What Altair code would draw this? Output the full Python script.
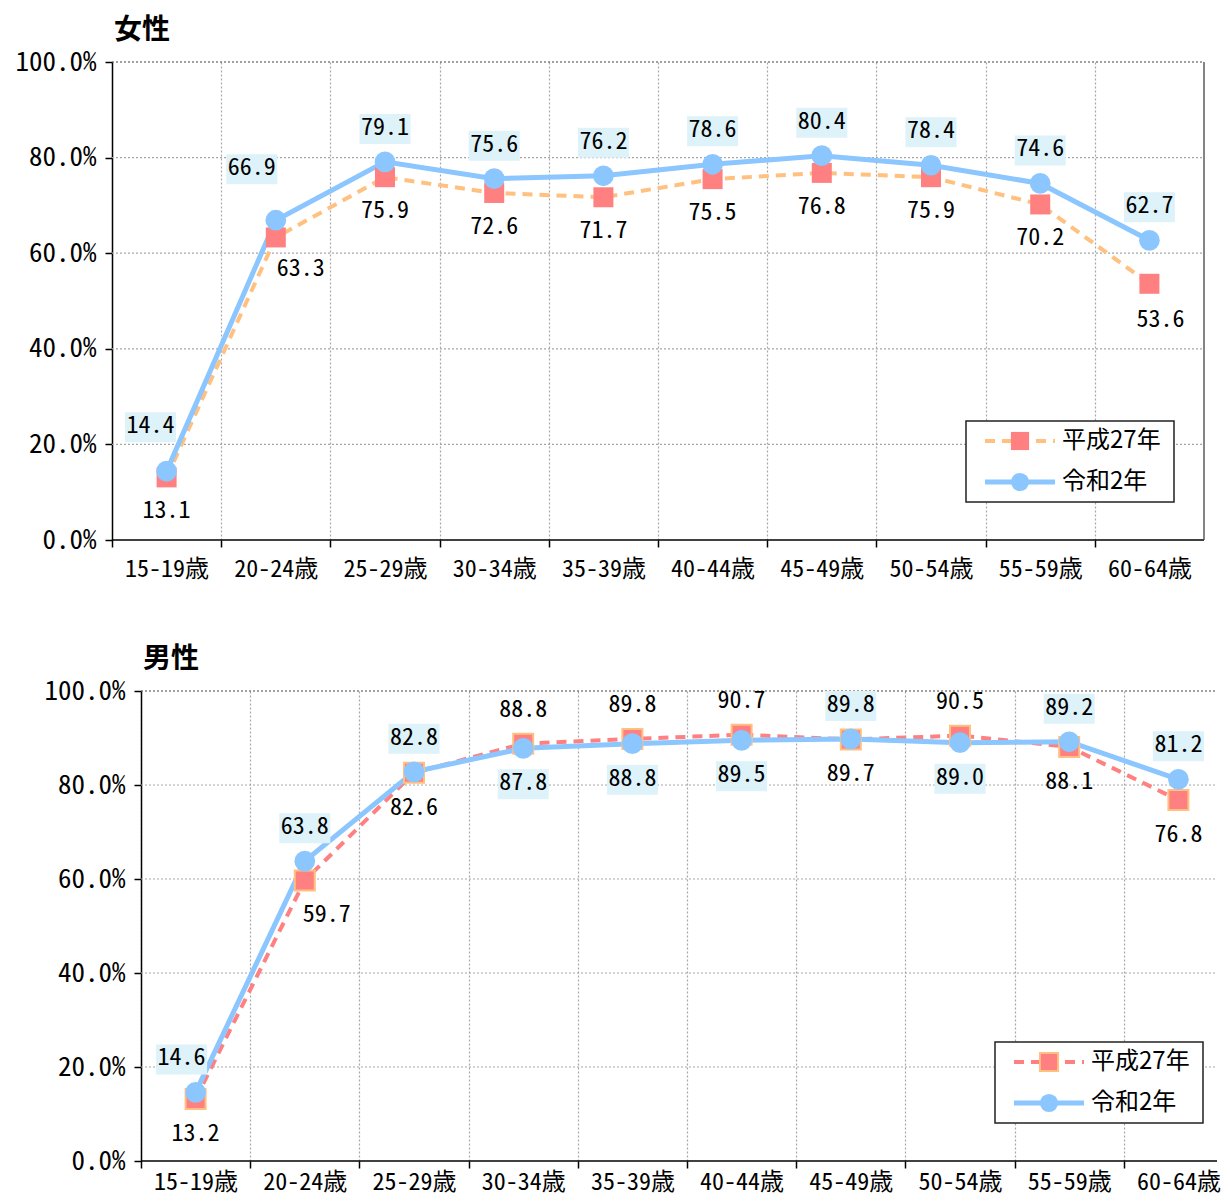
import altair as alt
import pandas as pd

# ---------------- data ----------------
ages = ["15-19歳", "20-24歳", "25-29歳", "30-34歳", "35-39歳",
        "40-44歳", "45-49歳", "50-54歳", "55-59歳", "60-64歳"]
series = ["平成27年", "令和2年"]

women_h27 = [13.1, 63.3, 75.9, 72.6, 71.7, 75.5, 76.8, 75.9, 70.2, 53.6]
women_r2 = [14.4, 66.9, 79.1, 75.6, 76.2, 78.6, 80.4, 78.4, 74.6, 62.7]
men_h27 = [13.2, 59.7, 82.6, 88.8, 89.8, 90.7, 89.7, 90.5, 88.1, 76.8]
men_r2 = [14.6, 63.8, 82.8, 87.8, 88.8, 89.5, 89.8, 89.0, 89.2, 81.2]

y_ticks = [0, 0.2, 0.4, 0.6, 0.8, 1.0]

# label placement codes (style only)
women_h27_place = ["b", "br", "b", "b", "b", "b", "b", "b", "b", "br2"]
women_r2_place = ["al", "al2", "a", "a", "a", "a", "a", "a", "a", "a"]
men_h27_place = ["b", "br", "b", "a", "a", "a", "b", "a", "b", "b"]
men_r2_place = ["al", "a", "a", "b", "b", "b", "a", "b", "a", "a"]

women_offsets = {"a": (0, -34), "b": (0, 34), "al": (-16, -45),
                 "al2": (-24, -52), "br": (25, 32), "br2": (11, 36)}
men_offsets = {"a": (0, -34), "b": (0, 35), "al": (-14, -34),
               "br": (22, 35)}

# ---------------- style ----------------
MONO = "Noto Sans Mono CJK JP, DejaVu Sans Mono, monospace"
SANS = "Noto Sans CJK JP, sans-serif"
BLUE = "#8CC6FF"
PINK = "#FF8080"
ORANGE = "#FFC080"
LABEL_BG = "#DEF2FA"
GRID = "#A6A6A6"
BAND = 109.2


def rect_path(cx, cy, w, h, scale=10.0):
    x0, x1 = (cx - w / 2) / scale, (cx + w / 2) / scale
    y0, y1 = (cy - h / 2) / scale, (cy + h / 2) / scale
    return f"M{x0},{y0}L{x1},{y0}L{x1},{y1}L{x0},{y1}Z"


label_arr = "[" + ",".join(f"'{a}'" for a in ages) + "]"


def panel(title, h27, r2, place_h27, place_r2, offsets, h27_line, h27_sq_stroke,
          plot_w, height, shift=0, right_border=True, xlabel_pad=10):
    rows = []
    for s, vals, places in ((series[0], h27, place_h27), (series[1], r2, place_r2)):
        for i, (a, v, p) in enumerate(zip(ages, vals, places)):
            rows.append({"age": a, "idx": i, "series": s, "value": v, "place": p})
    df = pd.DataFrame(rows)
    base = alt.Chart(df).transform_calculate(
        xp="datum.idx + 0.5", yp="datum.value / 100")

    xmin = -shift / BAND
    xmax = plot_w / BAND
    xscale = alt.Scale(domain=[xmin, xmax], nice=False, zero=False)
    yscale = alt.Scale(domain=[0, 1], nice=False)
    xaxis = alt.Axis(values=list(range(10)),
                     labelExpr=f"{label_arr}[datum.value]",
                     labelOffset=BAND / 2, labelFlush=False, labelOverlap=False,
                     labelBound=False,
                     grid=True, gridDash=[2, 2], gridColor=GRID, gridWidth=1.2,
                     domain=False,
                     tickColor="black", tickSize=7, tickWidth=1.5,
                     labelFont=MONO, labelFontSize=24, labelColor="black",
                     labelPadding=xlabel_pad, title=None)
    yaxis = alt.Axis(values=y_ticks, format=".1%", grid=False,
                     domainColor="black", domainWidth=1.5, offset=-shift,
                     tickColor="black", tickSize=7, tickWidth=1.5,
                     labelFont=MONO, labelFontSize=27, labelColor="black",
                     labelPadding=9, title=None)
    x = alt.X("xp:Q", scale=xscale, axis=xaxis)
    y = alt.Y("yp:Q", scale=yscale, axis=yaxis)

    f_h27 = f"datum.series == '{series[0]}'"
    f_r2 = f"datum.series == '{series[1]}'"

    grid_df = pd.DataFrame({"g": y_ticks})
    gy = alt.Y("g:Q", scale=yscale, axis=yaxis)
    layers = [
        # horizontal grid lines
        alt.Chart(grid_df).transform_filter("datum.g > 0 && datum.g < 1").mark_rule(
            color=GRID, strokeWidth=1.2, strokeDash=[2, 2]).encode(
            y=gy, x=alt.datum(0), x2=alt.datum(xmax)),
        alt.Chart(grid_df).transform_filter("datum.g >= 1").mark_rule(
            color="#444", strokeWidth=1.2, strokeDash=[2, 2]).encode(
            y=gy, x=alt.datum(0), x2=alt.datum(xmax)),
        # x baseline
        alt.Chart(grid_df).transform_filter("datum.g <= 0").mark_rule(
            color="black", strokeWidth=1.5).encode(
            y=gy, x=alt.datum(0), x2=alt.datum(xmax)),
    ]
    if right_border:
        layers.append(alt.Chart(grid_df).transform_filter("datum.g <= 0").mark_rule(
            color="#333", strokeWidth=1.2).encode(
            x=alt.datum(10), y=gy, y2=alt.datum(1)))

    layers += [
        base.transform_filter(f_h27).mark_line(
            color=h27_line, strokeWidth=4, strokeDash=[10, 7]).encode(x=x, y=y),
        base.transform_filter(f_r2).mark_line(
            color=BLUE, strokeWidth=5).encode(x=x, y=y),
        base.transform_filter(f_h27).mark_point(
            shape="square", filled=True, fill=PINK, size=400, opacity=1,
            stroke=h27_sq_stroke or PINK, strokeWidth=2 if h27_sq_stroke else 0
        ).encode(x=x, y=y),
        base.transform_filter(f_r2).mark_circle(
            color=BLUE, size=430, opacity=1).encode(x=x, y=y),
    ]
    # data labels
    for s_filter, places, bg in ((f_h27, place_h27, False), (f_r2, place_r2, True)):
        for code in sorted(set(places)):
            dx, dy = offsets[code]
            sel = base.transform_filter(s_filter).transform_filter(
                f"datum.place == '{code}'")
            if bg:
                layers.append(sel.mark_point(
                    shape=rect_path(dx, dy + 1, 51, 30), size=400, filled=True,
                    fill=LABEL_BG, opacity=1, strokeWidth=0).encode(x=x, y=y))
            layers.append(sel.mark_text(
                dx=dx, dy=dy, font=MONO, fontSize=24, color="black",
                align="center", baseline="middle"
            ).encode(x=x, y=y, text=alt.Text("value:Q", format=".1f")))

    # legend (drawn inside plot area, bottom right)
    one = pd.DataFrame({"k": [0]})
    r1, r2y = height - 99, height - 58
    L = shift
    layers += [
        alt.Chart(one).mark_rect(fill="white", stroke="#222", strokeWidth=1.5).encode(
            x=alt.value(L + 854), x2=alt.value(L + 1062),
            y=alt.value(height - 119), y2=alt.value(height - 38)),
        alt.Chart(one).mark_rule(color=h27_line, strokeWidth=4, strokeDash=[10, 7]).encode(
            x=alt.value(L + 873), x2=alt.value(L + 943), y=alt.value(r1)),
        alt.Chart(one).mark_point(shape="square", filled=True, fill=PINK, size=330,
                                  opacity=1, stroke=h27_sq_stroke or PINK,
                                  strokeWidth=2 if h27_sq_stroke else 0).encode(
            x=alt.value(L + 908), y=alt.value(r1)),
        alt.Chart(one).mark_rule(color=BLUE, strokeWidth=5).encode(
            x=alt.value(L + 873), x2=alt.value(L + 943), y=alt.value(r2y)),
        alt.Chart(one).mark_circle(color=BLUE, size=330, opacity=1).encode(
            x=alt.value(L + 908), y=alt.value(r2y)),
        alt.Chart(pd.DataFrame({"t": [series[0]]})).mark_text(
            align="left", baseline="middle", font=SANS, fontSize=24, color="black").encode(
            x=alt.value(L + 950), y=alt.value(r1), text="t:N"),
        alt.Chart(pd.DataFrame({"t": [series[1]]})).mark_text(
            align="left", baseline="middle", font=SANS, fontSize=24, color="black").encode(
            x=alt.value(L + 950), y=alt.value(r2y), text="t:N"),
    ]

    return alt.layer(*layers).properties(
        width=plot_w + shift, height=height,
        title=alt.TitleParams(title, anchor="start", frame="group", font=SANS,
                              fontSize=28, fontWeight="bold", color="black",
                              offset=3, dx=shift + 2))


top = panel("女性", women_h27, women_r2, women_h27_place, women_r2_place,
            women_offsets, ORANGE, None, 1092, 478, xlabel_pad=10)
bottom = panel("男性", men_h27, men_r2, men_h27_place, men_r2_place,
               men_offsets, PINK, ORANGE, 1076, 470, shift=29, right_border=False,
               xlabel_pad=2)

chart = alt.vconcat(top, bottom, spacing=65).properties(
    padding={"left": 7, "top": 9, "right": 0, "bottom": 3}
).configure_view(stroke=None)

chart.save("out.html", embed_options={"renderer": "svg", "actions": False})
